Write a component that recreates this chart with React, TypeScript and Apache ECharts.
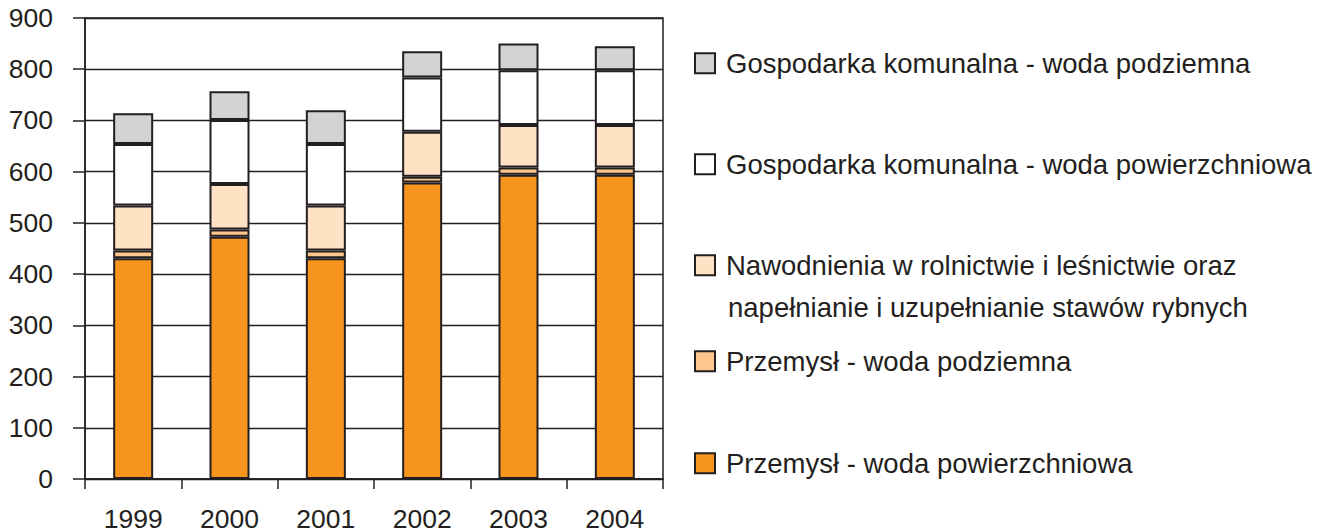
import React, { useEffect, useRef } from "react";
import * as echarts from "echarts";

const years = ["1999", "2000", "2001", "2002", "2003", "2004"];
const yTicks = { min: 0, max: 900, interval: 100 };

const seriesNames = [
  "Przemysł - woda powierzchniowa",
  "Przemysł - woda podziemna",
  "Nawodnienia w rolnictwie i leśnictwie oraz napełnianie i uzupełnianie stawów rybnych",
  "Gospodarka komunalna - woda powierzchniowa",
  "Gospodarka komunalna - woda podziemna",
];

const przemyslPowierzchniowa = [431, 473, 431, 579, 594, 594];
const przemyslPodziemna = [15, 14, 15, 11, 14, 14];
const nawodnienia = [88, 89, 88, 88, 83, 83];
const komunalnaPowierzchniowa = [120, 125, 120, 106, 107, 107];
const komunalnaPodziemna = [60, 56, 66, 51, 52, 47];

const values = [
  przemyslPowierzchniowa,
  przemyslPodziemna,
  nawodnienia,
  komunalnaPowierzchniowa,
  komunalnaPodziemna,
];

const colors = ["#F7941E", "#FDC68C", "#FFE1C4", "#FFFFFF", "#D1D3D4"];
const dark = "#231F20";
const font = "'Liberation Sans', Arial, Helvetica, sans-serif";
const legendFont = 27.5;

// legend rows from top: [series index, icon centre y]
const legendRows: [number, number][] = [
  [4, 63],
  [3, 164],
  [2, 265],
  [1, 361],
  [0, 463],
];
const legendLines: Record<number, string> = {
  2: "Nawodnienia w rolnictwie i leśnictwie oraz",
};
const secondLine = "napełnianie i uzupełnianie stawów rybnych";

export default function App() {
  const ref = useRef<HTMLDivElement>(null);
  useEffect(() => {
    if (!ref.current) return;
    const chart = echarts.init(ref.current, undefined, { renderer: "svg" });
    chart.setOption({
      animation: false,
      backgroundColor: "#ffffff",
      textStyle: { fontFamily: font },
      grid: {
        left: 85,
        right: 654,
        top: 18,
        bottom: 50,
        show: true,
        borderColor: dark,
        borderWidth: 1.5,
        backgroundColor: "transparent",
      },
      legend: legendRows.map(([si, cy]) => ({
        data: [seriesNames[si]],
        left: 694,
        top: cy - legendFont / 2,
        padding: 0,
        itemWidth: 20,
        itemHeight: 20,
        itemGap: 0,
        selectedMode: false,
        icon: "rect",
        formatter: (n: string) => legendLines[si] ?? n,
        textStyle: {
          fontFamily: font,
          fontSize: legendFont,
          color: dark,
          padding: [0, 0, 0, 6],
        },
        itemStyle: { borderColor: dark, borderWidth: 2 },
      })),
      graphic: [
        {
          type: "text",
          left: 728,
          top: 307 - legendFont / 2,
          style: {
            text: secondLine,
            fontFamily: font,
            fontSize: legendFont,
            fill: dark,
          },
        },
      ],
      xAxis: {
        type: "category",
        data: years,
        boundaryGap: true,
        axisLine: { lineStyle: { color: dark, width: 1.5 } },
        axisTick: { show: true, length: 10, lineStyle: { color: dark, width: 1.5 } },
        axisLabel: { color: dark, fontSize: 26.5, fontFamily: font, margin: 26 },
      },
      yAxis: {
        type: "value",
        min: yTicks.min,
        max: yTicks.max,
        interval: yTicks.interval,
        axisLine: { show: true, lineStyle: { color: dark, width: 1.5 } },
        axisTick: { show: true, length: 12, lineStyle: { color: dark, width: 1.5 } },
        axisLabel: { color: dark, fontSize: 26.5, fontFamily: font, margin: 32 },
        splitLine: { show: true, lineStyle: { color: dark, width: 1.3 } },
      },
      series: values.map((v, i) => ({
        name: seriesNames[i],
        type: "bar",
        stack: "total",
        data: v,
        barWidth: 40,
        itemStyle: { color: colors[i], borderColor: dark, borderWidth: 2 },
      })),
    });
    return () => chart.dispose();
  }, []);
  return (
    <div
      ref={ref}
      style={{ position: "fixed", left: 0, top: 0, width: 1317, height: 532 }}
    />
  );
}
